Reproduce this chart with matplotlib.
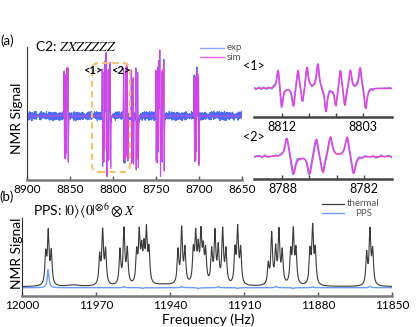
import numpy as np
import matplotlib
matplotlib.use("Agg")
import matplotlib.pyplot as plt
from matplotlib.lines import Line2D
from matplotlib.patches import FancyBboxPatch

plt.rcParams['font.family'] = ['Lato', 'DejaVu Sans']
plt.rcParams['mathtext.fontset'] = 'stix'

# ---------------- data ----------------
# (a) C2 spectrum, simulated line list: frequency (Hz) and signed amplitude (a.u.)
a_line_hz = [8856.8, 8856.3, 8855.1, 8854.6, 8854.1, 8853.6, 8852.4, 8851.9,
             8812.4, 8812.0, 8810.7, 8810.2, 8809.7, 8809.2, 8808.0, 8807.1,
             8806.0, 8805.5, 8805.0, 8804.4, 8803.3, 8802.7,
             8787.65, 8787.16, 8785.97, 8785.48, 8784.99, 8784.44, 8783.2, 8782.72,
             8778.6, 8778.1, 8777.0, 8776.5, 8776.0, 8773.4, 8772.9, 8771.8, 8771.3, 8770.4,
             8750.0, 8749.6, 8748.3, 8747.8, 8747.3, 8746.8, 8745.6, 8744.7,
             8743.6, 8743.1, 8742.6, 8742.0, 8740.9, 8740.3,
             8705.6, 8705.1, 8703.9, 8703.4, 8702.9, 8702.4, 8700.5, 8700.0]
a_line_amp = [19, -18, -18, 19, -18, 20, 20, -20,
              21, -21, -19.5, 21, -17, 22, 25, -24,
              -19, 21, -20, 19, 22, -22,
              20, -19, -19, 21, -19.6, 21, 21.3, -19,
              20, -20, -18, 19, -20, 21, -22, -18, 19, -20,
              21, -21, -20, 21, -17, 22, 26, -24,
              -19, 21, -20, 19, 22, -23,
              17, -19, -18, 18, -17, 19, 18, -21]
a_hwhm = 0.17         # Hz
a_exp_shift = 0.05    # Hz, experimental vs simulated offset
# baseline noise of the experimental trace (a.u., one value per 0.2 Hz)
noise_a = [0.45, -0.75, 0.9, -0.3, -1.05, 0.6, 0.15, -0.45, 1.05, -0.9, 0.3, 0.75, -0.6,
           -0.15, 0.9, -1.05, 0.45, 0.0, -0.75, 0.6, 1.05, -0.45, -0.9, 0.3, 0.75, -0.3,
           -0.6, 0.9, 0.15, -0.9, 0.45]
noise_b = [-0.6, 0.3, 0.75, -0.45, 0.15, -0.75, 0.6, -0.15, 0.45, 0.75, -0.6, -0.3, 0.3,
           -0.75, 0.6, 0.15, -0.45, 0.75, -0.15, -0.6, 0.45, 0.3, -0.75]

a_ticks = [8900, 8850, 8800, 8750, 8700, 8650]
i1_ticks = [8812, 8809, 8806, 8803]
i1_labels = ['8812', '', '', '8803']
i2_ticks = [8788, 8786, 8784, 8782]
i2_labels = ['8788', '', '', '8782']

# (b) thermal and PPS spectra: line list (Hz) and amplitudes (a.u.)
b_line_hz = [11990.39, 11989.34, 11988.12,
             11968.5, 11967.3, 11966.1,
             11960.27, 11958.65, 11957.31,
             11953.50, 11952.45, 11951.47, 11950.54, 11949.53, 11948.51,
             11936.74, 11935.26, 11933.92,
             11930.55, 11929.58, 11928.53, 11927.43, 11926.50, 11925.53,
             11923.10, 11921.76, 11920.42, 11918.64, 11917.30,
             11913.65, 11912.55, 11911.34,
             11900.15, 11898.77, 11897.15, 11895.81, 11894.47,
             11891.07, 11890.01, 11888.92,
             11883.24, 11882.15, 11881.09,
             11860.26, 11858.92, 11857.83]
b_line_amp = [30, 51, 32,
              28, 52, 33,
              34, 54, 34,
              30, 48, 30, 32, 50, 32,
              33, 54, 34,
              31, 46, 32, 47, 30, 31,
              32, 50, 35, 53, 33,
              33, 54, 34,
              20, 50, 34, 52, 32,
              31, 51, 33,
              32, 55, 33,
              31, 53, 33]
b_hwhm = 0.4
b_bg_hz = [11979.0, 11942.0]
b_bg_amp = [1.5, 1.5]
b_bg_hwhm = [2.5, 5.0]
pps_hz = [11989.4, 11958.6, 11951.0, 11935.3, 11928.5, 11920.4, 11912.5,
          11897.0, 11890.0, 11882.2, 11858.9]
pps_amp = [18, 1.2, -0.8, 1.0, -1.0, 1.0, -0.8, 1.2, -0.8, 1.0, 1.5]
pps_offset = -1.0
b_ticks = [12000, 11970, 11940, 11910, 11880, 11850]


def lorentz(f, centers, amps, hw):
    c = np.asarray(centers, float)[None, :]
    a = np.asarray(amps, float)[None, :]
    w = np.broadcast_to(np.asarray(hw, float), c.shape[1:])[None, :]
    return (a * w ** 2 / ((f[:, None] - c) ** 2 + w ** 2)).sum(axis=1)


# spectra
fa = np.arange(8650, 8900, 0.02)
sim = lorentz(fa, a_line_hz, a_line_amp, a_hwhm)
fe = np.arange(8650, 8900, 0.05)
n = len(fe) // 4 + 2
coarse = np.resize(noise_a, n) + np.resize(noise_b, n)
nz = np.repeat(coarse, 4)[:len(fe)]
nz = np.convolve(nz, np.ones(4) / 4, mode='same')
exp_ = lorentz(fe, np.asarray(a_line_hz) + a_exp_shift, a_line_amp, a_hwhm) + nz

fb = np.arange(11850, 12000, 0.02)
thermal = lorentz(fb, b_line_hz, b_line_amp, b_hwhm) + lorentz(fb, b_bg_hz, b_bg_amp, b_bg_hwhm)
pps = lorentz(fb, pps_hz, pps_amp, b_hwhm) + pps_offset

# ---------------- figure ----------------
W, H = 416, 327
fig = plt.figure(figsize=(W / 100, H / 100), dpi=100)


def rect(x0, y0, x1, y1):
    return [x0 / W, 1 - y1 / H, (x1 - x0) / W, (y1 - y0) / H]


def fx(x):
    return x / W


def fy(y):
    return 1 - y / H


C_EXP = '#4a6cf5'
C_EXP_L = '#6f8ff7'
C_SIM = '#f03de0'
C_TH = '#3a3a3a'
C_PPS = '#6e9bff'

# main (a)
axA = fig.add_axes(rect(27, 47, 242, 180))
axA.plot(fe, exp_, color=C_EXP, lw=0.8)
axA.plot(fa, sim, color=C_SIM, lw=0.7, alpha=0.85)
axA.set_xlim(8900, 8650)
axA.set_ylim(-24.6, 26.5)

# insets
axI1 = fig.add_axes(rect(254, 60, 392, 117))
axI1.plot(fe, exp_, color=C_EXP_L, lw=1.0)
axI1.plot(fa, sim, color=C_SIM, lw=1.0)
axI1.set_xlim(8815.1, 8799.8)
axI1.set_ylim(-28.7, 28.3)
axI1.set_xticks(i1_ticks)
axI1.set_xticklabels(i1_labels)

axI2 = fig.add_axes(rect(254, 130, 392, 179))
axI2.plot(fe, exp_, color=C_EXP_L, lw=1.0)
axI2.plot(fa, sim, color=C_SIM, lw=1.0)
axI2.set_xlim(8790.1, 8779.9)
axI2.set_ylim(-22.5, 26.5)
axI2.set_xticks(i2_ticks)
axI2.set_xticklabels(i2_labels)

# (b)
axB = fig.add_axes(rect(22, 218, 392, 296))
axB.plot(fb, thermal, color=C_TH, lw=0.8)
axB.plot(fb, pps, color=C_PPS, lw=1.0)
axB.set_xlim(12000, 11850)
axB.set_ylim(-9.3, 68.7)

axA.set_xticks(a_ticks)
axB.set_xticks(b_ticks)

for ax in (axA, axB):
    ax.spines['top'].set_visible(False)
    ax.spines['right'].set_visible(False)
    ax.spines['left'].set_color('#333333')
    ax.spines['left'].set_linewidth(0.8)
    ax.spines['bottom'].set_color('#7a7a7a')
    ax.spines['bottom'].set_linewidth(1.8)
    ax.set_yticks([])
    ax.tick_params(axis='x', direction='in', length=3, width=1, color='#555555',
                   labelsize=8.5, pad=3)

for ax in (axI1, axI2):
    for s in ('top', 'right', 'left'):
        ax.spines[s].set_visible(False)
    ax.spines['bottom'].set_color('#444444')
    ax.spines['bottom'].set_linewidth(1.8)
    ax.set_yticks([])
    ax.tick_params(axis='x', direction='in', length=3, width=1, color='#444444',
                   labelsize=9, pad=3)
    ax.patch.set_alpha(0)

# dashed rounded box around <1>, <2>
box = FancyBboxPatch((0.92, 3.27 - 1.72), 0.38, 1.09,
                     boxstyle="round,pad=0,rounding_size=0.07",
                     transform=fig.dpi_scale_trans, fill=False,
                     edgecolor='#f6c36a', lw=1.5, linestyle=(0, (3, 2)), zorder=10)
fig.add_artist(box)

# texts
fig.text(fx(7), fy(41), '(a)', fontsize=9.5, ha='center', va='center')
fig.text(fx(35), fy(46), r'C2: $ZXZZZZZ$', fontsize=10, ha='left', va='center')
fig.text(fx(93), fy(70), '<1>', fontsize=8, fontweight='bold', ha='center', va='center', zorder=20)
fig.text(fx(121), fy(70), '<2>', fontsize=8, fontweight='bold', ha='center', va='center', zorder=20)
fig.text(fx(254), fy(66), '<1>', fontsize=9, ha='center', va='center')
fig.text(fx(254), fy(137), '<2>', fontsize=9, ha='center', va='center')
fig.text(fx(17), fy(118), 'NMR Signal', fontsize=10, rotation=90, ha='center', va='center')
fig.text(fx(7), fy(197), '(b)', fontsize=9.5, ha='center', va='center')
fig.text(fx(33), fy(211), r'PPS: $|0\rangle\langle 0|^{\otimes 6}\otimes X$', fontsize=10,
         ha='left', va='center')
fig.text(fx(17), fy(253), 'NMR Signal', fontsize=10, rotation=90, ha='center', va='center')
fig.text(fx(208), fy(320), 'Frequency (Hz)', fontsize=10, ha='center', va='center')

# legends
fig.add_artist(Line2D([fx(200), fx(224)], [fy(48), fy(48)], color='#88a4ff', lw=1.0))
fig.add_artist(Line2D([fx(200), fx(224)], [fy(57), fy(57)], color='#f25ee6', lw=1.0))
fig.text(fx(227), fy(48), 'exp', fontsize=7, color='#555555', ha='left', va='center')
fig.text(fx(227), fy(57), 'sim', fontsize=7, color='#555555', ha='left', va='center')
fig.add_artist(Line2D([fx(322), fx(344)], [fy(204), fy(204)], color=C_TH, lw=0.9))
fig.add_artist(Line2D([fx(322), fx(344)], [fy(213), fy(213)], color=C_PPS, lw=1.0))
fig.text(fx(347), fy(204), 'thermal', fontsize=7, color='#555555', ha='left', va='center')
fig.text(fx(355), fy(213), 'PPS', fontsize=7, color='#555555', ha='left', va='center')

fig.savefig('out.png', dpi=100)
